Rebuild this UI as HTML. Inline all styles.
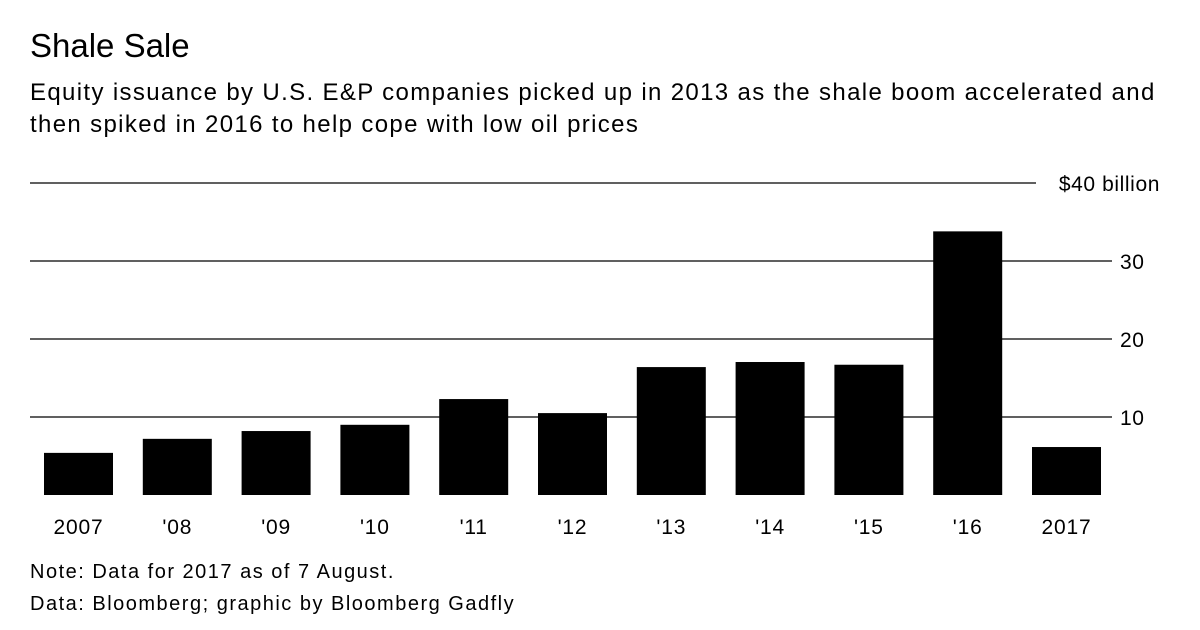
<!DOCTYPE html>
<html><head><meta charset="utf-8">
<style>
body{margin:0;background:#fff;width:1200px;height:630px;overflow:hidden;font-family:"Liberation Sans",Arial,sans-serif;color:#000}
#t{position:absolute;left:30px;top:27px;font-size:33px}
#s{position:absolute;left:30px;top:77px;font-size:24px;letter-spacing:1.35px;line-height:32px;width:1170px;white-space:nowrap}
#n{position:absolute;left:30px;top:556px;font-size:20px;letter-spacing:1.5px;line-height:32px}
svg{position:absolute;left:0;top:0}
</style></head><body>
<div id="t">Shale Sale</div>
<div id="s">Equity issuance by U.S. E&amp;P companies picked up in 2013 as the shale boom accelerated and<br>then spiked in 2016 to help cope with low oil prices</div>
<div id="n">Note: Data for 2017 as of 7 August.<br>Data: Bloomberg; graphic by Bloomberg Gadfly</div>
<svg id="c" width="1200" height="630"></svg>
<script>
const categories=["2007","'08","'09","'10","'11","'12","'13","'14","'15","'16","2017"];
const values=[5.4,7.2,8.2,9.0,12.3,10.5,16.4,17.05,16.7,33.8,6.15];
const ticks=[10,20,30,40];
const tickLabels=["10","20","30","$40 billion"];
const NS="http://www.w3.org/2000/svg";
const svg=document.getElementById('c');
const y=v=>495-v*7.8;
const x=i=>44+i*98.8;
function mk(t,a){const e=document.createElementNS(NS,t);for(const k in a)e.setAttribute(k,a[k]);svg.appendChild(e);return e;}
ticks.forEach((t,i)=>{
  const l=mk('line',{x1:30,x2:i==3?1036:1112,y1:y(t),y2:y(t),stroke:'#000','stroke-width':1.3});
  
  
  const tx=mk('text',{x:i==3?1160:1120,y:y(t)+8,'font-size':21,'letter-spacing':'0.6','text-anchor':i==3?'end':'start','font-family':'Liberation Sans, Arial, sans-serif'});
  tx.textContent=tickLabels[i];
  
  
});
values.forEach((v,i)=>{
  const r=mk('rect',{x:x(i),y:y(v),width:69,height:495-y(v),fill:'#000'});
  
  
  const tx=mk('text',{x:x(i)+34.5,y:534,'font-size':21,'letter-spacing':'0.8','text-anchor':'middle','font-family':'Liberation Sans, Arial, sans-serif'});
  tx.textContent=categories[i];
  
  
});
</script>
</body></html>
